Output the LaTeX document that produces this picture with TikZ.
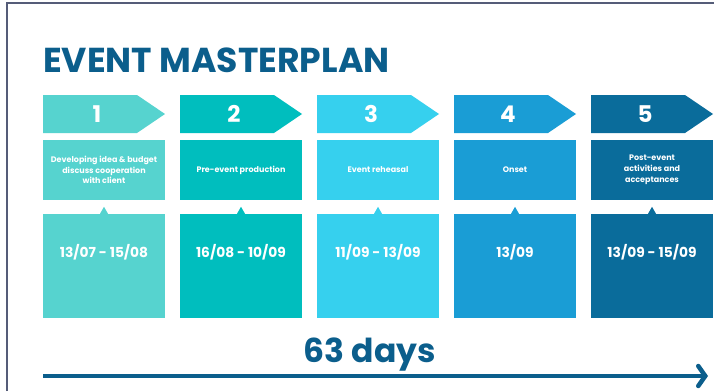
\documentclass[tikz,border=0pt]{standalone}
\usepackage{fontspec}
\setmainfont{Poppins}
\usetikzlibrary{arrows.meta}
\definecolor{phaseA}{RGB}{86,211,207}
\definecolor{phaseB}{RGB}{0,190,190}
\definecolor{phaseC}{RGB}{54,208,238}
\definecolor{phaseD}{RGB}{26,157,213}
\definecolor{phaseE}{RGB}{10,108,155}
\definecolor{titleblue}{RGB}{11,94,140}
\definecolor{framegray}{RGB}{85,92,120}
\tikzset{
    num/.style={text=white,inner sep=0pt,font=\bfseries\fontsize{23}{23}\selectfont},
    descbox/.style={minimum width=122pt,minimum height=60pt,inner sep=0pt,text=white,align=center,
        font=\bfseries\fontsize{8}{10.8}\selectfont},
    datebox/.style={minimum width=122pt,minimum height=104pt,inner sep=0pt},
    datetext/.style={text=white,inner sep=0pt,font=\bfseries\fontsize{13.8}{16}\selectfont},
    timeline/.style={titleblue,line width=4.5pt,-{Straight Barb[length=7pt,width=20pt,line cap=round]}}
}

\begin{document}
\begin{tikzpicture}[x=1pt,y=-1pt]
        \useasboundingbox (0,0) rectangle (714,391);
        \fill[white] (0,0) rectangle (714,391);
        \draw[framegray,line width=1.5pt] (7,391) |- (714,3);
        \node[anchor=base west,inner sep=0pt,text=titleblue,font=\bfseries\fontsize{34.6}{36}\selectfont] (title) at (43,72) {EVENT MASTERPLAN};
        \foreach \n/\L/\c/\txt/\dt in {
            1/43/phaseA/{Developing idea \& budget\\discuss cooperation\\with client}/{13/07 - 15/08},
            2/180/phaseB/{Pre-event production}/{16/08 - 10/09},
            3/317/phaseC/{Event reheasal}/{11/09 - 13/09},
            4/454/phaseD/{Onset}/{13/09},
            5/591/phaseE/{Post-event\\activities and\\acceptances}/{13/09 - 15/09}}{
            \fill[\c] (\L,95) -- ++(94,0) -- ++(28,19) -- ++(-28,19) -- ++(-94,0) -- cycle;
            \node[num] (n\n) at (\L+54,114) {\n};
            \node[descbox,fill=\c] (t\n) at (\L+61,170) {\txt};
            \node[datebox,fill=\c] (d\n) at (\L+61,266) {};
            \fill[\c] ([xshift=-4pt]d\n.north) -- ++(4,-7) -- ++(4,7) -- cycle;
            \node[datetext] (dt\n) at (\L+61,252) {\dt};
        }
        \node[anchor=base,inner sep=0pt,text=titleblue,font=\bfseries\fontsize{33}{36}\selectfont] (days) at (370,362) {63 days};
        \coordinate (start) at (43,376);
        \coordinate (end) at (708,376);
        \draw[timeline] (start) -- (end);
    \end{tikzpicture}
\end{document}
